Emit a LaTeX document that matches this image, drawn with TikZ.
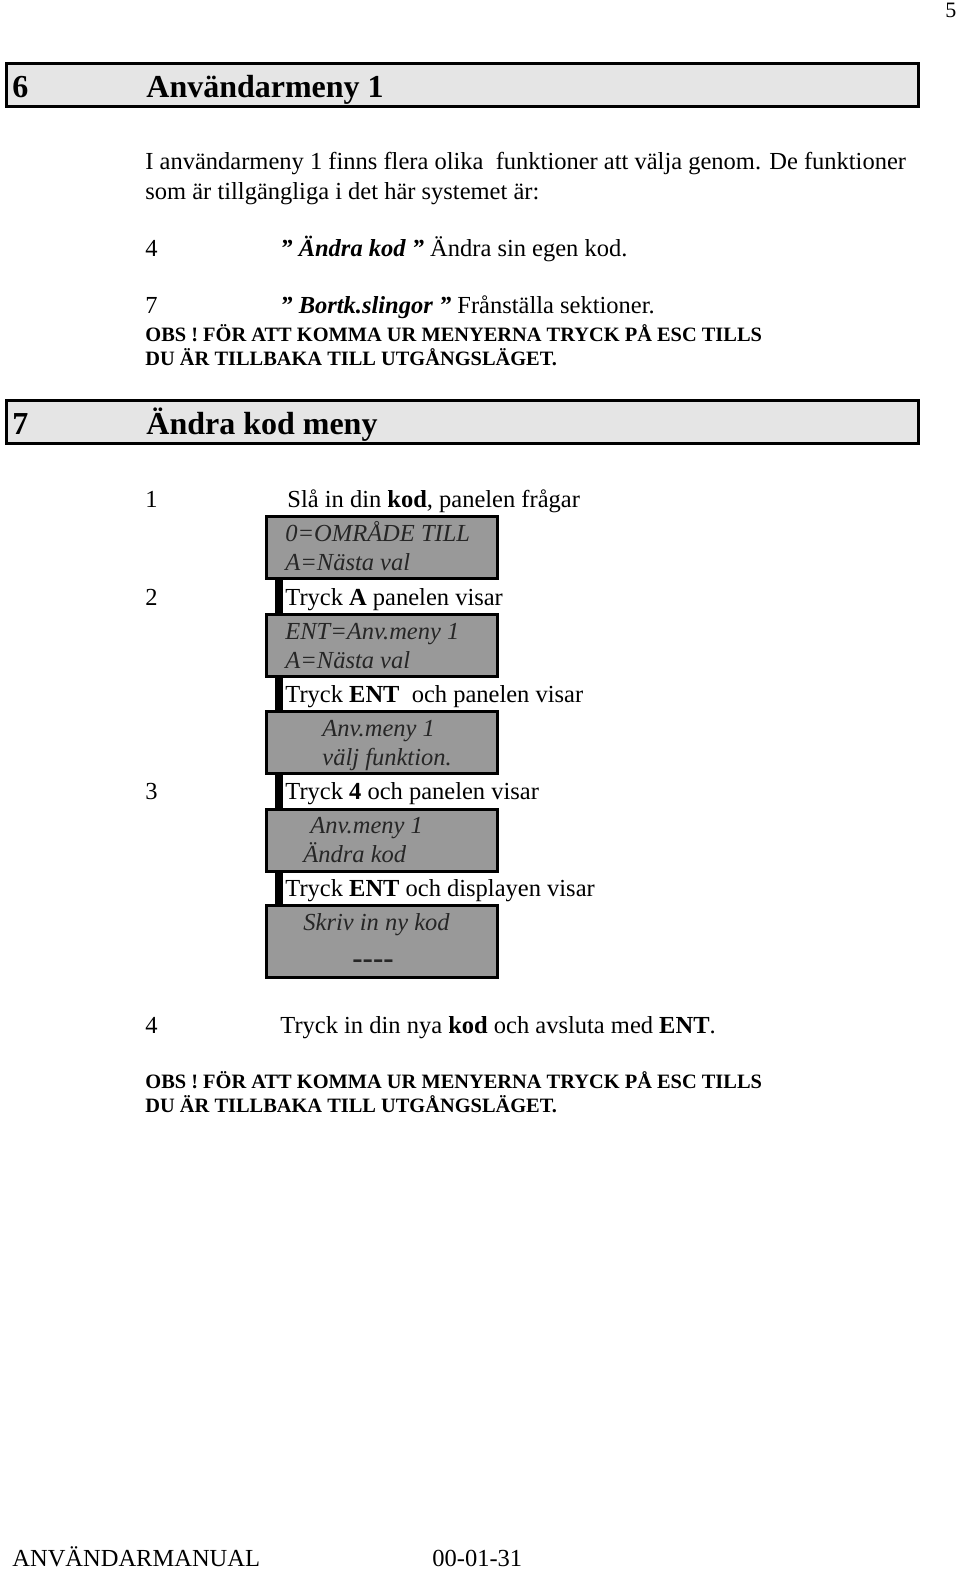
\documentclass[tikz,border=0pt]{standalone}
\usepackage{fontspec}
\setmainfont{Liberation Serif}
\usetikzlibrary{positioning}
\newcommand{\bodyfont}{\fontsize{12.25}{15}\selectfont}
\newcommand{\headfont}{\fontsize{16}{19}\selectfont\bfseries}
\newcommand{\obsfont}{\fontsize{10.2}{12}\selectfont\bfseries}
\tikzstyle{txt}=[anchor = base west, inner sep = 0pt, font = \bodyfont]
\tikzstyle{obs}=[anchor = base west, inner sep = 0pt, font = \obsfont]
\tikzstyle{htxt}=[anchor = base west, inner sep = 0pt, font = \headfont]
\tikzstyle{dtxt}=[anchor = base west, inner sep = 0pt, font = \bodyfont\itshape, text = black!85]
\tikzstyle{head}=[draw, line width = 1.5pt, fill = black!10, anchor = north west, inner sep = 0pt, minimum width = 455.75pt, minimum height = 21.5pt]
\tikzstyle{disp}=[draw, line width = 1.5pt, fill = black!40, anchor = north west, inner sep = 0pt, minimum width = 115.5pt, minimum height = 31pt]
\tikzstyle{bar}=[line width = 3.7pt]

\begin{document}
\begin{tikzpicture}[x = 0.5pt, y = -0.5pt]
  \useasboundingbox (0,0) rectangle (960,1570);
  \node[txt, font = \fontsize{11}{12}\selectfont] (pg) at (945,17) {5};
  % avsnitt 6
  \node[head] (h6) at (5,62) {};
  \node[htxt] (h6n) at (12,97) {6};
  \node[htxt] (h6t) at (146,97) {Användarmeny 1};
  \node[txt] (i1) at (145,169) {I användarmeny 1 finns flera olika\ \ funktioner att välja genom. De funktioner};
  \node[txt] (i2) at (145,199) {som är tillgängliga i det här systemet är:};
  \node[txt] (f4n) at (145,256) {4};
  \node[txt] (f4t) at (280,256) {\textbf{\textit{” Ändra kod ”}} Ändra sin egen kod.};
  \node[txt] (f7n) at (145,313) {7};
  \node[txt] (f7t) at (280,313) {\textbf{\textit{” Bortk.slingor ”}} Frånställa sektioner.};
  \node[obs] (obs1a) at (145,341) {OBS ! FÖR ATT KOMMA UR MENYERNA TRYCK PÅ ESC TILLS};
  \node[obs] (obs1b) at (145,365) {DU ÄR TILLBAKA TILL UTGÅNGSLÄGET.};
  % avsnitt 7
  \node[head] (h7) at (5,399) {};
  \node[htxt] (h7n) at (12,434) {7};
  \node[htxt] (h7t) at (146,434) {Ändra kod meny};
  \node[txt] (s1n) at (145,507) {1};
  \node[txt] (s1t) at (287,507) {Slå in din \textbf{kod}, panelen frågar};
  \node[disp] (d1) at (265,515) {};
  \node[dtxt] (d1a) at (285,541) {0=OMRÅDE TILL};
  \node[dtxt] (d1b) at (285,570) {A=Nästa val};
  \node[txt] (s2n) at (145,605) {2};
  \node[txt] (s2t) at (285,605) {Tryck \textbf{A} panelen visar};
  \node[disp] (d2) at (265,613) {};
  \node[dtxt] (d2a) at (285,639) {ENT=Anv.meny 1};
  \node[dtxt] (d2b) at (285,668) {A=Nästa val};
  \node[txt] (s2c) at (285,702) {Tryck \textbf{ENT}\ \ och panelen visar};
  \node[disp] (d3) at (265,710) {};
  \node[dtxt] (d3a) at (322,736) {Anv.meny 1};
  \node[dtxt] (d3b) at (322,765) {välj funktion.};
  \node[txt] (s3n) at (145,799) {3};
  \node[txt] (s3t) at (285,799) {Tryck \textbf{4} och panelen visar};
  \node[disp] (d4) at (265,808) {};
  \node[dtxt] (d4a) at (310,833) {Anv.meny 1};
  \node[dtxt] (d4b) at (303,862) {Ändra kod};
  \node[txt] (s3c) at (285,896) {Tryck \textbf{ENT} och displayen visar};
  \node[disp, minimum height = 36pt] (d5) at (265,904) {};
  \node[dtxt] (d5a) at (303,930) {Skriv in ny kod};
  \node[dtxt, font = \fontsize{15.5}{16}\selectfont\bfseries] (d5b) at (352,968) {-{}-{}-{}-};
  \foreach \a/\b in {d1/d2, d2/d3, d3/d4, d4/d5}
    \draw[bar] ([xshift = 7pt]\a.south west) -- ([xshift = 7pt]\b.north west);
  \node[txt] (s4n) at (145,1033) {4};
  \node[txt] (s4t) at (280,1033) {Tryck in din nya \textbf{kod} och avsluta med \textbf{ENT}.};
  \node[obs] (obs2a) at (145,1088) {OBS ! FÖR ATT KOMMA UR MENYERNA TRYCK PÅ ESC TILLS};
  \node[obs] (obs2b) at (145,1112) {DU ÄR TILLBAKA TILL UTGÅNGSLÄGET.};
  % sidfot
  \node[txt] (ft1) at (12,1566) {ANVÄNDARMANUAL};
  \node[txt] (ft2) at (432,1566) {00-01-31};
\end{tikzpicture}
\end{document}
